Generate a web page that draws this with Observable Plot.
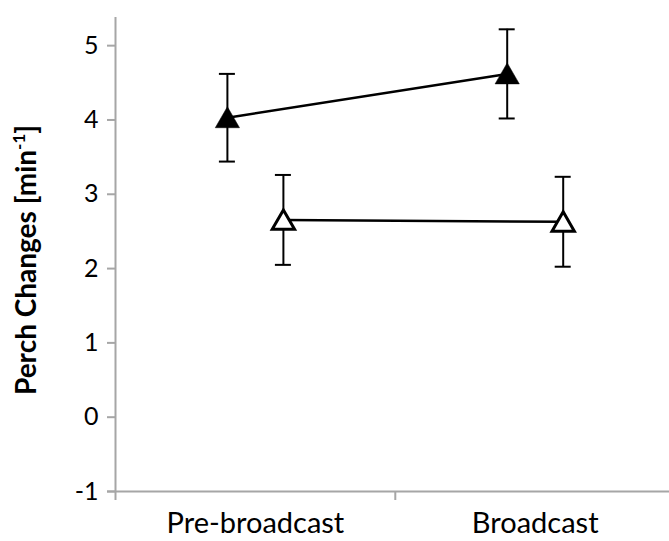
<!DOCTYPE html>
<html>
<head>
<meta charset="utf-8">
<script src="https://cdn.jsdelivr.net/npm/d3@7"></script>
<script src="https://cdn.jsdelivr.net/npm/@observablehq/plot@0.6"></script>
<style>
  html, body { margin: 0; padding: 0; background: #fff; }
  #chart svg { display: block; }
</style>
</head>
<body>
<div id="chart"></div>
<script>
const categories = ["Pre-broadcast", "Broadcast"];
const seriesNames = ["Filled", "Open"];
const filledMean = [4.03, 4.62];
const filledErr = [0.59, 0.60];
const openMean = [2.655, 2.63];
const openErr = [0.605, 0.605];
const yTicks = [-1, 0, 1, 2, 3, 4, 5];
const yLabel = "Perch Changes [min";
const yLabelSup = "-1";

const rows = [];
categories.forEach((c, i) => {
  rows.push({series: seriesNames[0], cat: c, i, mean: filledMean[i], err: filledErr[i]});
  rows.push({series: seriesNames[1], cat: c, i, mean: openMean[i], err: openErr[i]});
});
const filled = rows.filter(d => d.series === seriesNames[0]);
const open = rows.filter(d => d.series === seriesNames[1]);

const axisColor = "#a6a6a6";
const font = "Lato, 'Open Sans', sans-serif";
const off = 28;

function seriesMarks(data, dx, fill) {
  return [
    Plot.line(data, {x: "i", y: "mean", dx, stroke: "#000", strokeWidth: 2.5}),
    Plot.ruleX(data, {x: "i", y1: d => d.mean - d.err, y2: d => d.mean + d.err, dx, stroke: "#000", strokeWidth: 2}),
    Plot.ruleY(data, {y: d => d.mean + d.err, x1: "i", x2: "i", dx, insetLeft: -8, insetRight: -8, stroke: "#000", strokeWidth: 2}),
    Plot.ruleY(data, {y: d => d.mean - d.err, x1: "i", x2: "i", dx, insetLeft: -8, insetRight: -8, stroke: "#000", strokeWidth: 2}),
    Plot.dot(data, {x: "i", y: "mean", dx, dy: 3, symbol: "triangle", r: fill === "#000" ? 9 : 8.3,
      fill, stroke: "#000", strokeWidth: fill === "#000" ? 0.5 : 3})
  ];
}

const plot = Plot.plot({
  width: 669,
  height: 541,
  marginLeft: 115,
  marginRight: 0,
  marginTop: 8,
  marginBottom: 50,
  style: {fontFamily: font, background: "#fff", color: "#000"},
  x: {domain: [-0.5, 1.48], axis: null},
  y: {domain: [-1, 5.5], axis: null},
  marks: [
    Plot.axisY({ticks: yTicks, tickSize: 8, tickPadding: 9, stroke: axisColor, strokeWidth: 2, strokeOpacity: 1,
      fontSize: 25, fill: "#000", label: null, tickFormat: d => String(d)}),
    Plot.axisX({ticks: [-0.5, 0.5], tickSize: 9, stroke: axisColor, strokeWidth: 2, strokeOpacity: 1, tickFormat: () => "", label: null}),
    Plot.axisX({ticks: categories.map((c, i) => i), tickSize: 0, tickPadding: 21, fontSize: 29, fill: "#000",
      tickFormat: i => categories[i], label: null}),
    Plot.ruleX([-0.5], {y1: -1, y2: 5.5, stroke: axisColor, strokeWidth: 2, insetBottom: -9}),
    Plot.ruleY([-1], {x1: -0.5, x2: 1.48, stroke: axisColor, strokeWidth: 2, insetLeft: -8}),
    ...seriesMarks(filled, -off, "#000"),
    ...seriesMarks(open, off, "#fff")
  ]
});

const svg = d3.select(plot);
const t = svg.append("text")
  .attr("transform", "translate(36,260) rotate(-90)")
  .attr("text-anchor", "middle")
  .attr("font-family", font)
  .attr("font-weight", "bold")
  .attr("font-size", 28)
  .attr("fill", "#000");
t.append("tspan").text(yLabel);
t.append("tspan").attr("font-size", 17).attr("dy", -11).text(yLabelSup);
t.append("tspan").attr("dy", 11).text("]");

document.getElementById("chart").appendChild(plot);
</script>
</body>
</html>
